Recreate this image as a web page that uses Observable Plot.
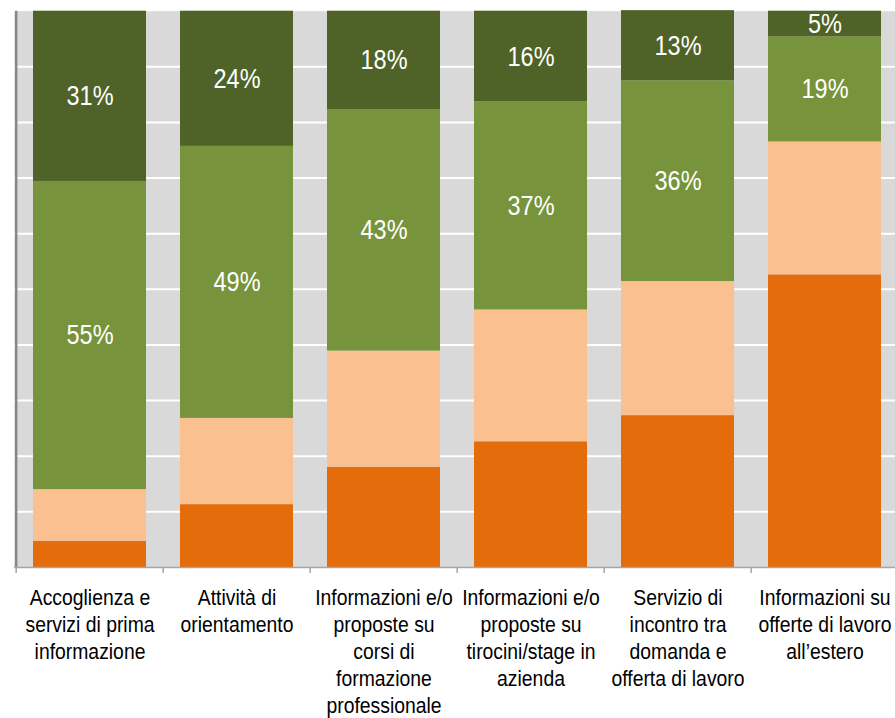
<!DOCTYPE html>
<html>
<head>
<meta charset="utf-8">
<script src="https://cdn.jsdelivr.net/npm/d3@7"></script>
<script src="https://cdn.jsdelivr.net/npm/@observablehq/plot@0.6"></script>
<style>
  html, body { margin: 0; padding: 0; background: #fff; overflow: hidden; }
  svg { display: block; }
</style>
</head>
<body>
<div id="chart"></div>
<script>
const categories = [
  "Accoglienza e\nservizi di prima\ninformazione",
  "Attività di\norientamento",
  "Informazioni e/o\nproposte su\ncorsi di\nformazione\nprofessionale",
  "Informazioni e/o\nproposte su\ntirocini/stage in\nazienda",
  "Servizio di\nincontro tra\ndomanda e\nofferta di lavoro",
  "Informazioni su\nofferte di lavoro\nall’estero"
];
const seriesNames = ["Per niente", "Poco", "Abbastanza", "Molto"];
const perNiente  = [4.7, 11.3, 18.0, 22.6, 27.3, 52.6];
const poco       = [9.3, 15.5, 20.9, 23.7, 24.1, 23.9];
const abbastanza = [55.4, 48.9, 43.4, 37.4, 36.1, 18.9];
const molto      = [30.6, 24.3, 17.7, 16.3, 12.6, 4.6];
const labelledSeries = ["Abbastanza", "Molto"];
const colors = ["#E46C0A", "#FAC090", "#77933C", "#4F6228"];
const yTicks = [10, 20, 30, 40, 50, 60, 70, 80, 90];

const seriesValues = [perNiente, poco, abbastanza, molto];
const data = [];
seriesNames.forEach((s, i) => categories.forEach((c, j) => data.push({category: c, series: s, value: seriesValues[i][j]})));

const W = 895, H = 718;
const x0 = 14, x1 = 900;
const yBottom = 567, yTop = 10.7;
const step = (x1 - x0) / categories.length;
const font = "'Liberation Sans', Arial, sans-serif";

const chart = Plot.plot({
  width: W,
  height: H,
  marginLeft: x0,
  marginRight: 0,
  marginTop: yTop,
  marginBottom: H - yBottom,
  style: {fontFamily: font, background: "#fff"},
  x: {type: "band", domain: categories, range: [x0, x1], paddingInner: 0.23, paddingOuter: 0.115, axis: null},
  y: {type: "linear", domain: [0, 100], range: [yBottom, yTop], axis: null},
  color: {domain: seriesNames, range: colors},
  marks: [
    Plot.frame({fill: "#D9D9D9", stroke: null}),
    Plot.ruleY(yTicks, {stroke: "#fff", strokeWidth: 2}),
    Plot.barY(data, Plot.stackY({x: "category", y: "value", fill: "series", order: seriesNames})),
    Plot.text(data, Plot.stackY({
      x: "category", y: "value", z: "series", order: seriesNames,
      text: d => labelledSeries.includes(d.series) ? Math.round(d.value) + "%" : null,
      fill: "#fff", fontSize: 28, ariaDescription: "value-labels"
    })),
    Plot.ruleX([categories[0]], {x: d => d, dx: -step / 2, stroke: "#868686", strokeWidth: 2.5}),
    Plot.ruleY([0], {stroke: "#A6A6A6", strokeWidth: 1.5}),
    Plot.ruleX(categories, {x: d => d, y1: 0, y2: 0, insetBottom: -6, dx: -step / 2, stroke: "#A6A6A6", strokeWidth: 1.5}),
    Plot.text(categories, {x: d => d, y: 0, text: d => d, lineAnchor: "top", dy: 18, fontSize: 22, lineHeight: 1.23, fill: "#000", ariaDescription: "x-labels"})
  ]
});
document.getElementById("chart").appendChild(chart);

// narrow the lettering to match the condensed typeface of the original
function narrow(sel, k) {
  chart.querySelectorAll(sel).forEach(t => {
    const tr = t.getAttribute("transform") || "";
    t.setAttribute("transform", tr + ` scale(${k},1)`);
  });
}
narrow('g[aria-description="value-labels"] text', 0.84);
narrow('g[aria-description="x-labels"] text', 0.88);
</script>
</body>
</html>
